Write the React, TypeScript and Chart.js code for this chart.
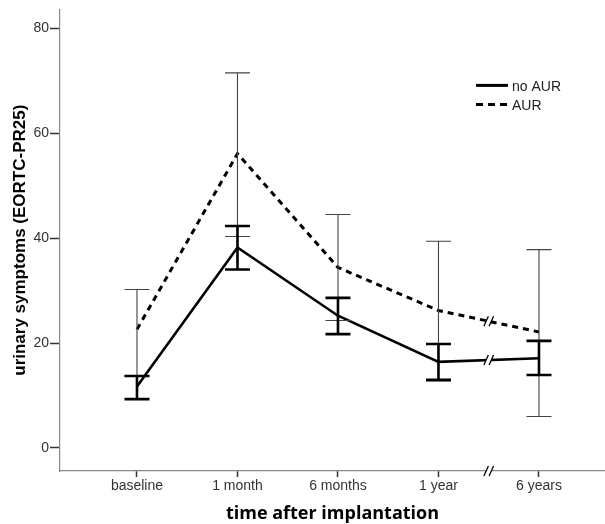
import React, { useEffect, useRef } from 'react';
import { Chart, registerables } from 'chart.js';

Chart.register(...registerables);

const categories = ['baseline', '1 month', '6 months', '1 year', '6 years'];
const yTicks = [0, 20, 40, 60, 80];
const noAurMean = [11.7, 38.2, 25.2, 16.4, 17.1];
const noAurLow = [9.3, 34.0, 21.7, 13.0, 13.9];
const noAurHigh = [13.7, 42.3, 28.6, 19.8, 20.4];
const aurMean = [22.6, 56.1, 34.4, 26.2, 22.1];
const aurLow = [13.7, 40.3, 24.3, 12.7, 6.0];
const aurHigh = [30.2, 71.5, 44.5, 39.4, 37.8];
const breakAt = 3.5;

const FONT = "'Liberation Sans', Arial, sans-serif";

const errorBarPlugin = {
  id: 'errorBars',
  afterDatasetsDraw(chart: any) {
    const { ctx, scales } = chart;
    const xs = scales.x;
    const ys = scales.y;
    const order = [1, 0];
    order.forEach((di) => {
      const ds = chart.data.datasets[di];
      if (!ds || !ds.errLow) return;
      ctx.save();
      ctx.strokeStyle = ds.errColor;
      ctx.lineWidth = ds.errWidth;
      ctx.lineCap = 'butt';
      ds.errLow.forEach((lo: number, i: number) => {
        const hi = ds.errHigh[i];
        const x = xs.getPixelForValue(i);
        const y1 = ys.getPixelForValue(lo);
        const y2 = ys.getPixelForValue(hi);
        const hw = 12.5;
        ctx.beginPath();
        ctx.moveTo(x, y1);
        ctx.lineTo(x, y2);
        ctx.moveTo(x - hw, y1);
        ctx.lineTo(x + hw, y1);
        ctx.moveTo(x - hw, y2);
        ctx.lineTo(x + hw, y2);
        ctx.stroke();
      });
      ctx.restore();
    });

    const drawBreak = (x: number, y: number, h: number) => {
      const dx = h * 0.45;
      const gap = 2.6;
      ctx.save();
      ctx.fillStyle = '#ffffff';
      ctx.beginPath();
      ctx.moveTo(x - gap - dx, y + h);
      ctx.lineTo(x - gap + dx, y - h);
      ctx.lineTo(x + gap + dx, y - h);
      ctx.lineTo(x + gap - dx, y + h);
      ctx.closePath();
      ctx.fill();
      ctx.strokeStyle = '#000';
      ctx.lineWidth = 1.3;
      ctx.beginPath();
      ctx.moveTo(x - gap - dx, y + h);
      ctx.lineTo(x - gap + dx, y - h);
      ctx.moveTo(x + gap - dx, y + h);
      ctx.lineTo(x + gap + dx, y - h);
      ctx.stroke();
      ctx.restore();
    };
    const bx = xs.getPixelForValue(breakAt);
    chart.data.datasets.forEach((ds: any) => {
      const a = ds.data[3].y;
      const b = ds.data[4].y;
      const yv = a + (b - a) * (breakAt - 3);
      drawBreak(bx, ys.getPixelForValue(yv), 5);
    });
    drawBreak(bx, ys.bottom, 5);
  },
};

const legendPlugin = {
  id: 'customLegend',
  afterDraw(chart: any) {
    const { ctx, chartArea } = chart;
    const x0 = chartArea.right - 129;
    const y0 = chartArea.top + 76;
    ctx.save();
    chart.data.datasets.forEach((ds: any, i: number) => {
      const y = y0 + i * 19;
      ctx.strokeStyle = '#000';
      ctx.lineWidth = 3;
      ctx.lineCap = 'butt';
      ctx.setLineDash(ds.borderDash ? [7, 5] : []);
      ctx.beginPath();
      ctx.moveTo(x0, y);
      ctx.lineTo(x0 + 32, y);
      ctx.stroke();
      ctx.setLineDash([]);
      ctx.fillStyle = '#222';
      ctx.font = `14px ${FONT}`;
      ctx.textBaseline = 'middle';
      ctx.textAlign = 'left';
      ctx.fillText(ds.label, x0 + 36, y + 1.5);
    });
    ctx.restore();
  },
};

export default function App() {
  const canvasRef = useRef<HTMLCanvasElement | null>(null);

  useEffect(() => {
    if (!canvasRef.current) return;
    const chart = new Chart(canvasRef.current, {
      type: 'line',
      data: {
        datasets: [
          {
            label: 'no AUR',
            data: categories.map((_, i) => ({ x: i, y: noAurMean[i] })),
            borderColor: '#000',
            borderWidth: 2.6,
            pointRadius: 0,
            tension: 0,
            fill: false,
            errLow: noAurLow,
            errHigh: noAurHigh,
            errWidth: 2.6,
            errColor: '#000',
          } as any,
          {
            label: 'AUR',
            data: categories.map((_, i) => ({ x: i, y: aurMean[i] })),
            borderColor: '#000',
            borderWidth: 3,
            borderDash: [6, 5],
            pointRadius: 0,
            tension: 0,
            fill: false,
            errLow: aurLow,
            errHigh: aurHigh,
            errWidth: 1.1,
            errColor: '#444',
          } as any,
        ],
      },
      options: {
        animation: false,
        responsive: true,
        maintainAspectRatio: false,
        events: [],
        layout: { padding: { top: 7, right: 0, left: 0, bottom: 0 } },
        plugins: {
          legend: { display: false },
          tooltip: { enabled: false },
        },
        scales: {
          x: {
            type: 'linear',
            min: -0.766,
            max: 4.657,
            afterBuildTicks: (scale: any) => {
              scale.ticks = categories.map((_, i) => ({ value: i }));
            },
            afterFit: (scale: any) => {
              scale.height = 53;
            },
            ticks: {
              callback: (v: any) => categories[Math.round(Number(v))] ?? '',
              color: '#333',
              font: { family: FONT, size: 14 },
              padding: 1,
              maxRotation: 0,
              autoSkip: false,
            },
            grid: {
              drawOnChartArea: false,
              drawTicks: true,
              tickLength: 6,
              tickColor: '#333',
              tickWidth: 1.5,
            },
            border: { color: '#888', width: 1.2 },
            title: {
              display: true,
              text: 'time after implantation',
              color: '#000',
              font: { family: "'Open Sans', 'Liberation Sans', sans-serif", size: 18, weight: 'bold', lineHeight: 1.1 },
              padding: { top: 0, bottom: 0 },
            },
          },
          y: {
            type: 'linear',
            min: -4.4,
            max: 83.6,
            afterBuildTicks: (scale: any) => {
              scale.ticks = yTicks.map((v) => ({ value: v }));
            },
            afterFit: (scale: any) => {
              scale.width = 60;
            },
            ticks: {
              color: '#333',
              font: { family: FONT, size: 14 },
              padding: 1,
            },
            grid: {
              drawOnChartArea: false,
              drawTicks: true,
              tickLength: 10,
              tickColor: '#333',
              tickWidth: 1.5,
            },
            border: { color: '#888', width: 1.2 },
            title: {
              display: true,
              text: 'urinary symptoms (EORTC-PR25)',
              color: '#000',
              font: { family: FONT, size: 17, weight: 'bold' },
              padding: { top: 10, bottom: 0 },
            },
          },
        },
      },
      plugins: [errorBarPlugin, legendPlugin],
    });
    return () => chart.destroy();
  }, []);

  return (
    <div style={{ position: 'fixed', left: 0, top: 0, width: 605, height: 524, background: '#fff' }}>
      <canvas ref={canvasRef} />
    </div>
  );
}
